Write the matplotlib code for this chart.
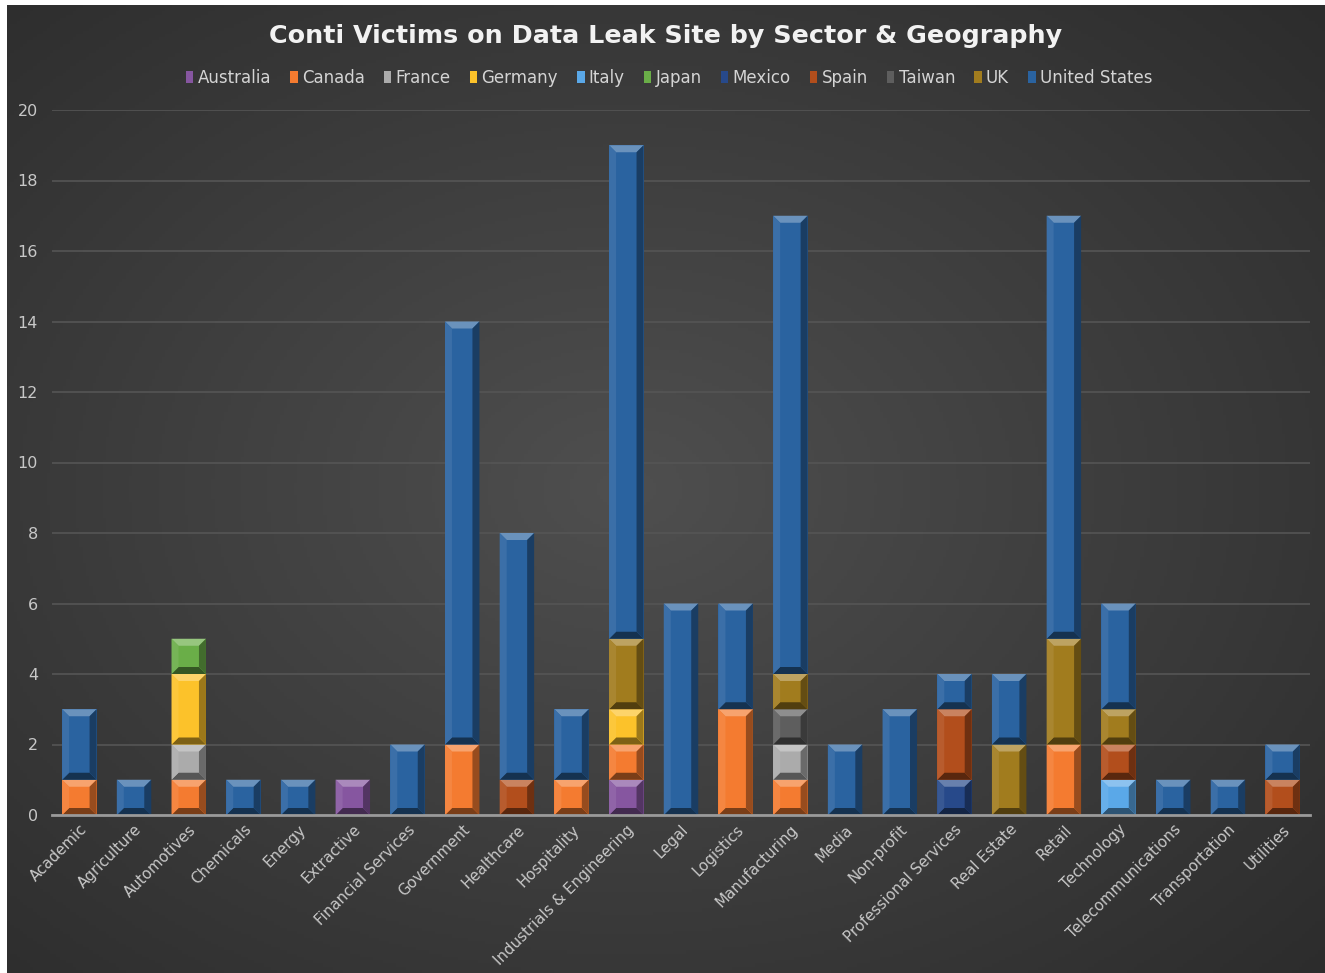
import numpy as np
import matplotlib
matplotlib.use("Agg")
import matplotlib.pyplot as plt
from matplotlib.patches import Polygon, Patch
from matplotlib.colors import to_rgb

categories = ["Academic", "Agriculture", "Automotives", "Chemicals", "Energy", "Extractive",
              "Financial Services", "Government", "Healthcare", "Hospitality",
              "Industrials & Engineering", "Legal", "Logistics", "Manufacturing", "Media",
              "Non-profit", "Professional Services", "Real Estate", "Retail", "Technology",
              "Telecommunications", "Transportation", "Utilities"]

countries = ["Australia", "Canada", "France", "Germany", "Italy", "Japan", "Mexico",
             "Spain", "Taiwan", "UK", "United States"]

#                    Aca Agr Aut Che Ene Ext Fin Gov Hea Hos Ind Leg Log Man Med Non Pro Rea Ret Tec Tel Tra Uti
australia     = [0, 0, 0, 0, 0, 1, 0, 0, 0, 0, 1, 0, 0, 0, 0, 0, 0, 0, 0, 0, 0, 0, 0]
canada        = [1, 0, 1, 0, 0, 0, 0, 2, 0, 1, 1, 0, 3, 1, 0, 0, 0, 0, 2, 0, 0, 0, 0]
france        = [0, 0, 1, 0, 0, 0, 0, 0, 0, 0, 0, 0, 0, 1, 0, 0, 0, 0, 0, 0, 0, 0, 0]
germany       = [0, 0, 2, 0, 0, 0, 0, 0, 0, 0, 1, 0, 0, 0, 0, 0, 0, 0, 0, 0, 0, 0, 0]
italy         = [0, 0, 0, 0, 0, 0, 0, 0, 0, 0, 0, 0, 0, 0, 0, 0, 0, 0, 0, 1, 0, 0, 0]
japan         = [0, 0, 1, 0, 0, 0, 0, 0, 0, 0, 0, 0, 0, 0, 0, 0, 0, 0, 0, 0, 0, 0, 0]
mexico        = [0, 0, 0, 0, 0, 0, 0, 0, 0, 0, 0, 0, 0, 0, 0, 0, 1, 0, 0, 0, 0, 0, 0]
spain         = [0, 0, 0, 0, 0, 0, 0, 0, 1, 0, 0, 0, 0, 0, 0, 0, 2, 0, 0, 1, 0, 0, 1]
taiwan        = [0, 0, 0, 0, 0, 0, 0, 0, 0, 0, 0, 0, 0, 1, 0, 0, 0, 0, 0, 0, 0, 0, 0]
uk            = [0, 0, 0, 0, 0, 0, 0, 0, 0, 0, 2, 0, 0, 1, 0, 0, 0, 2, 3, 1, 0, 0, 0]
united_states = [2, 1, 0, 1, 1, 0, 2, 12, 7, 2, 14, 6, 3, 13, 2, 3, 1, 2, 12, 3, 1, 1, 1]

series = [australia, canada, france, germany, italy, japan, mexico, spain, taiwan, uk, united_states]

colors = ["#8656a0", "#f47b30", "#ababab", "#fcc22a", "#5aa8e8", "#6aae48", "#27498a",
          "#b24e1c", "#5e5e5e", "#a17c1e", "#2a63a0"]

yticks = [0, 2, 4, 6, 8, 10, 12, 14, 16, 18, 20]

W, H = 1325, 973
fig = plt.figure(figsize=(W / 100, H / 100), dpi=100)
fig.patch.set_facecolor("white")

# background with radial gradient
bg = fig.add_axes([7 / W, 0, 1 - 7 / W, 1 - 5 / H])
bg.set_zorder(-10)
yy, xx = np.mgrid[0:1:300j, 0:1:400j]
r = np.sqrt(((xx - 0.47) / 0.8) ** 2 + ((yy - 0.5) / 0.8) ** 2)
val = 0.31 - 0.15 * np.clip(r, 0, 1)
bg.imshow(np.dstack([val, val, val]), aspect="auto", extent=[0, 1, 0, 1])
bg.axis("off")

left, right = 52 / W, 1310 / W
bottom, top = 1 - 815 / H, 1 - 110 / H
ax = fig.add_axes([left, bottom, right - left, top - bottom])
ax.set_facecolor("none")
n = len(categories)
x = np.arange(n)
ax.set_xlim(-0.5, n - 0.5)
ax.set_ylim(0, 20)

width = 0.63
px_x = (right - left) * W / n          # pixels per x unit
px_y = (top - bottom) * H / 20          # pixels per y unit
bev = 7
bx = bev / px_x
by = bev / px_y


def mix(c, t, a):
    c = np.array(to_rgb(c))
    t = np.array(to_rgb(t))
    return tuple(c * (1 - a) + t * a)


base = np.zeros(n)
for vals, col in zip(series, colors):
    vals = np.array(vals, dtype=float)
    for i in range(n):
        h = vals[i]
        if h <= 0:
            continue
        x0 = x[i] - width / 2
        x1 = x[i] + width / 2
        y0 = base[i]
        y1 = base[i] + h
        ax.bar(x[i], h, width, bottom=y0, color=col, zorder=3, linewidth=0)
        # bevel
        ix0, ix1, iy0, iy1 = x0 + bx, x1 - bx, y0 + by, y1 - by
        polys = [
            ([(x0, y1), (x1, y1), (ix1, iy1), (ix0, iy1)], mix(col, "white", 0.3)),
            ([(x0, y0), (x1, y0), (ix1, iy0), (ix0, iy0)], mix(col, "black", 0.5)),
            ([(x0, y0), (ix0, iy0), (ix0, iy1), (x0, y1)], mix(col, "white", 0.08)),
            ([(x1, y0), (ix1, iy0), (ix1, iy1), (x1, y1)], mix(col, "black", 0.38)),
        ]
        for pts, pc in polys:
            ax.add_patch(Polygon(pts, closed=True, facecolor=pc, edgecolor="none", zorder=4))
    base += vals

ax.set_yticks(yticks)
ax.set_xticks(x)
ax.set_xticklabels(categories, rotation=45, ha="right", rotation_mode="anchor")
ax.tick_params(axis="both", length=0, colors="#c8c8c8", labelsize=10.8)
ax.tick_params(axis="x", pad=5)
ax.tick_params(axis="y", pad=10, labelsize=11.5)
ax.grid(axis="y", color="#555555", linewidth=1.2, zorder=0)
ax.set_axisbelow(True)
for s in ["top", "right", "left"]:
    ax.spines[s].set_visible(False)
ax.spines["bottom"].set_color("#9a9a9a")
ax.spines["bottom"].set_linewidth(2)
ax.spines["bottom"].set_zorder(5)

fig.text(0.5 + 7 / W / 2, 1 - 36 / H, "Conti Victims on Data Leak Site by Sector & Geography",
         ha="center", va="center", color="#f2f2f2", fontsize=18.3, fontweight="bold")

handles = [Patch(facecolor=c, edgecolor="none") for c in colors]
leg = fig.legend(handles, countries, loc="center", bbox_to_anchor=(0.505, 1 - 78 / H), ncol=11,
                 frameon=False, fontsize=12, handlelength=0.45, handleheight=0.7,
                 handletextpad=0.25, columnspacing=1.15, labelcolor="#d4d4d4")

fig.savefig("out.png", dpi=100, facecolor=fig.get_facecolor())
